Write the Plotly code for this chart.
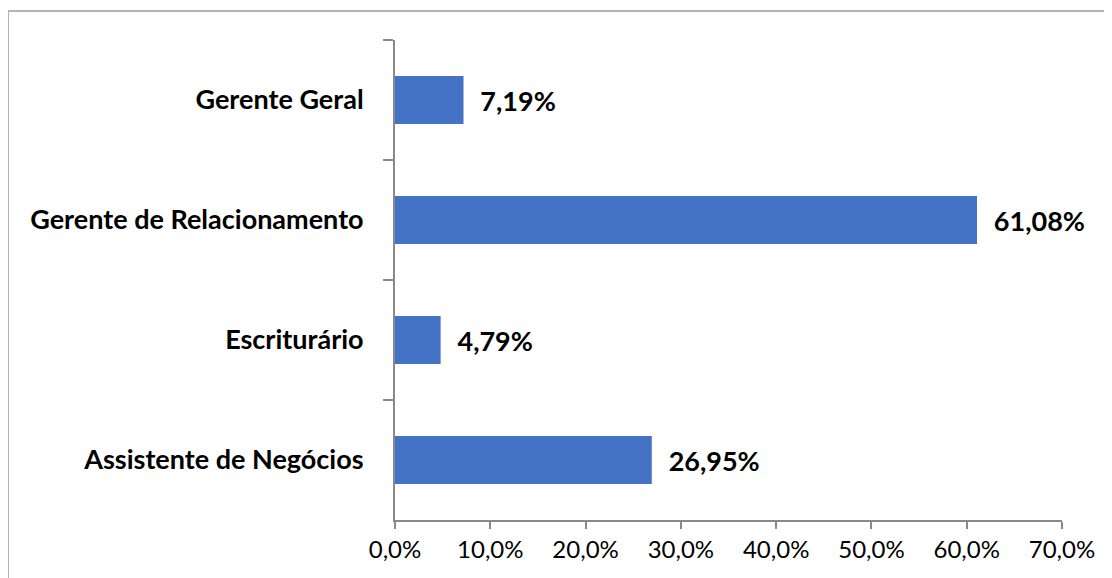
import plotly.graph_objects as go

# cargos e percentuais (fracao), de cima para baixo
cargos = ["Gerente Geral", "Gerente de Relacionamento", "Escriturário", "Assistente de Negócios"]
percentuais = [0.0719, 0.6108, 0.0479, 0.2695]

FONT = "Lato"
AXIS_GRAY = "#898989"
BORDER_GRAY = "#b4b4b4"

# o body da pagina tem 8px de margem, por isso 1104x570 e margens descontadas
fig = go.Figure(go.Bar(
    x=percentuais,
    y=cargos,
    orientation="h",
    marker=dict(color="#4472C4", line=dict(width=0)),
    texttemplate="\u00a0\u00a0<b>%{x:.2%}</b>",
    textposition="outside",
    textfont=dict(family=FONT, size=27, color="black"),
    cliponaxis=False,
))

fig.update_layout(
    width=1104, height=570,
    margin=dict(l=387, r=50, t=32, b=58),
    paper_bgcolor="white", plot_bgcolor="white",
    separators=",.",
    bargap=0.6,
    showlegend=False,
    font=dict(family=FONT, color="black"),
)

fig.update_xaxes(
    range=[0, 0.7], dtick=0.1, tickformat=".1%",
    showgrid=False, zeroline=False,
    showline=True, linecolor=AXIS_GRAY, linewidth=2,
    ticks="outside", ticklen=7, tickwidth=2, tickcolor=AXIS_GRAY,
    tickfont=dict(family=FONT, size=24, color="black"),
)

fig.update_yaxes(
    autorange="reversed",
    showgrid=False, zeroline=False,
    showline=True, linecolor=AXIS_GRAY, linewidth=2,
    ticks="outside", tickson="boundaries", ticklen=10, tickwidth=2, tickcolor=AXIS_GRAY,
    tickfont=dict(family=FONT, size=27, color="black"),
    ticklabelstandoff=24,
    tickprefix="<b>", ticksuffix="</b>",
)

# borda da area do grafico (so topo e esquerda aparecem no recorte)
fig.add_shape(type="line", xref="paper", yref="paper",
              x0=-0.5802, x1=1.2, y0=1.0604, y1=1.0604,
              line=dict(color=BORDER_GRAY, width=2))
fig.add_shape(type="line", xref="paper", yref="paper",
              x0=-0.5802, x1=-0.5802, y0=-0.2, y1=1.0604,
              line=dict(color=BORDER_GRAY, width=2))

fig.write_html("out.html")
